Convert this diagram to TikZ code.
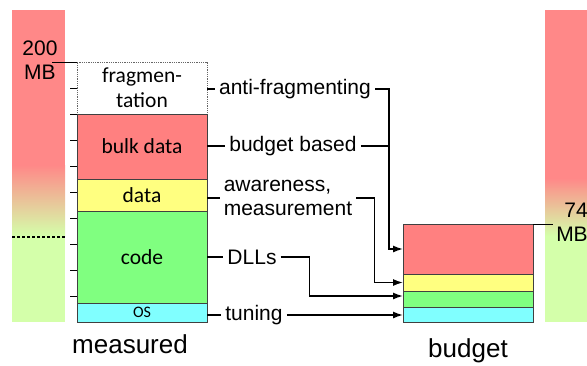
\documentclass[tikz,border=0pt]{standalone}
\usepackage{fontspec}
\setmainfont{Liberation Sans}
\newfontfamily\boxfont{Carlito}
\usepackage{tikz}
\usetikzlibrary{arrows.meta}

\definecolor{barred}{HTML}{FF8888}
\definecolor{bargreen}{HTML}{D4FFAA}
\definecolor{bulkred}{HTML}{FF8080}
\definecolor{datayellow}{HTML}{FFFF80}
\definecolor{codegreen}{HTML}{80FF80}
\definecolor{oscyan}{HTML}{80FFFF}

\begin{document}
\begin{tikzpicture}[x=1pt, y=-1pt,
	blk/.style={draw=black!75, line width=0.8pt, minimum width=130pt, inner sep=0pt, outer sep=0pt,
		font=\boxfont\fontsize{21.5}{25}\selectfont, align=center},
	lbl/.style={inner sep=4pt, font=\fontsize{21}{24}\selectfont, align=left},
	con/.style={line width=1.4pt},
	arr/.style={con, -{Latex[length=10pt,width=7pt]}}]
	\useasboundingbox (0,0) rectangle (587,365);

	% background bars
	\fill[barred] (12,10) rectangle (65,165);
	\shade[top color=barred, bottom color=bargreen] (12,165) rectangle (65,236);
	\fill[bargreen] (12,236) rectangle (65,322);
	\draw[line width=1.2pt, dash pattern=on 3pt off 2pt] (12,237) -- (65,237);

	\fill[barred] (545,10) rectangle (587,178);
	\shade[top color=barred, bottom color=bargreen] (545,178) rectangle (587,236);
	\fill[bargreen] (545,236) rectangle (587,322);

	% measured
	\node[blk, draw=black!60, densely dotted, fill=white, minimum height=52pt] (frag) at (142,88)    {fragmen-\\tation};
	\node[blk, fill=bulkred,    minimum height=65pt] (bulk) at (142,146.5) {bulk data};
	\node[blk, fill=datayellow, minimum height=32pt] (data) at (142,195)   {data};
	\node[blk, fill=codegreen,  minimum height=92pt] (code) at (142,257)   {code};
	\node[blk, fill=oscyan,     minimum height=19pt, font=\boxfont\fontsize{16}{18}\selectfont] (os) at (142,312.5) {OS};

	\foreach \y in {88,114,...,296}
		\draw[line width=0.8pt] (70,\y) -- (77,\y);

	\node[lbl, align=center, inner sep=0pt] (mbtop) at (40,60) {200\\MB};
	\draw[line width=1pt] (52,62) -- (frag.north west);

	% budget
	\node[blk, fill=bulkred,    minimum height=50pt] (bred) at (468,249)   {};
	\node[blk, fill=datayellow, minimum height=17pt] (byel) at (468,282.5) {};
	\node[blk, fill=codegreen,  minimum height=16pt] (bgrn) at (468,299)   {};
	\node[blk, fill=oscyan,     minimum height=15pt] (bcyn) at (468,314.5) {};

	\node[lbl, align=right, inner sep=0pt] (mbbot) at (572,222) {74\\MB};
	\draw[line width=1pt] (bred.north east) -- (553,224);

	% labels
	\node[lbl] (antifrag) at (295,89)  {anti-fragmenting};
	\node[lbl] (budget)   at (293,146) {budget based};
	\node[lbl] (aware)    at (288,198) {awareness,\\measurement};
	\node[lbl] (dlls)     at (252,257) {DLLs};
	\node[lbl] (tuning)   at (254,315) {tuning};

	\node[font=\fontsize{26}{28}\selectfont] (measured) at (130,344) {measured};
	\node[font=\fontsize{26}{28}\selectfont] (budgetlbl) at (468,351) {budget};

	% connectors
	\coordinate (bus) at (389,89);
	\path[con] (frag.east |- antifrag.west) edge (antifrag.west);
	\path[con] (bulk.east |- budget.west) edge (budget.west);
	\path[con] (data.east |- aware.west) edge (aware.west);
	\path[con] (code.east |- dlls.west) edge (dlls.west);
	\path[con] (os.east |- tuning.west) edge (tuning.west);

	\draw[arr] (antifrag.east) -- (bus) |- (bred.west);
	\draw[con] (budget.east) -- (budget.east -| bus);
	\draw[arr] (aware.east) -- ++(18,0) |- (byel.west);
	\draw[arr] (dlls.east) -- ++(29,0) |- ([yshift=3pt]bgrn.west);
	\draw[arr] (tuning.east) -- (tuning.east -| bcyn.west);
\end{tikzpicture}
\end{document}
